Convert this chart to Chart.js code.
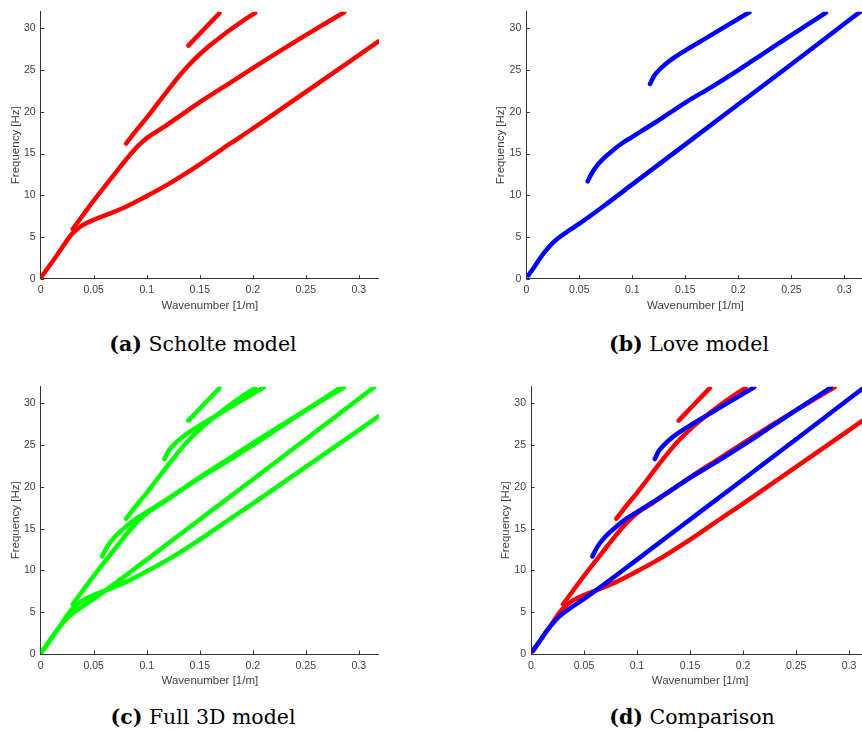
<!DOCTYPE html>
<html>
<head>
<meta charset="utf-8">
<script src="https://cdn.jsdelivr.net/npm/chart.js@4.4.0/dist/chart.umd.min.js"></script>
<style>
  html, body { margin: 0; padding: 0; background: #fff; }
  body { position: relative; width: 862px; height: 731px; overflow: hidden; }
  canvas { position: absolute; }
  .cap { position: absolute; font-family: "DejaVu Serif", serif; font-size: 20.5px; color: #000;
         white-space: nowrap; transform: translate(-50%, -50%); }
  .cap b { font-weight: bold; }
</style>
</head>
<body>
<canvas id="scholte"></canvas>
<canvas id="love"></canvas>
<canvas id="full3d"></canvas>
<canvas id="compare"></canvas>
<div class="cap" style="left:203px;top:344px"><b>(a)</b> Scholte model</div>
<div class="cap" style="left:689px;top:344px"><b>(b)</b> Love model</div>
<div class="cap" style="left:203px;top:717px"><b>(c)</b> Full 3D model</div>
<div class="cap" style="left:692px;top:717px"><b>(d)</b> Comparison</div>
<script>
// Axis ranges and tick labels
const K_MAX = 0.319;
const F_MAX = 32;
const K_TICKS = [0, 0.05, 0.1, 0.15, 0.2, 0.25, 0.3];
const K_TICK_LABELS = ['0', '0.05', '0.1', '0.15', '0.2', '0.25', '0.3'];
const F_TICKS = [0, 5, 10, 15, 20, 25, 30];
const F_TICK_LABELS = ['0', '5', '10', '15', '20', '25', '30'];

// Scholte dispersion branches: wavenumber [1/m] and frequency [Hz]
const scholte0K = [0, 0.015, 0.029, 0.035, 0.04, 0.05, 0.065, 0.08, 0.1, 0.12, 0.15, 0.18, 0.2, 0.25, 0.3, 0.3186];
const scholte0F = [0.1, 2.75, 5.3, 6.0, 6.45, 7.05, 7.8, 8.6, 9.9, 11.3, 13.7, 16.3, 18.0, 22.4, 26.8, 28.45];
const scholte1K = [0.0302, 0.05, 0.07, 0.08, 0.088, 0.095, 0.1, 0.107, 0.115, 0.13, 0.15, 0.18, 0.2, 0.225, 0.25, 0.2862];
const scholte1F = [5.96, 9.35, 12.6, 14.2, 15.4, 16.3, 16.85, 17.45, 18.1, 19.4, 21.15, 23.6, 25.25, 27.25, 29.2, 31.94];
const scholte2K = [0.0805, 0.09, 0.1, 0.11, 0.12, 0.13, 0.14, 0.15, 0.16, 0.17, 0.18, 0.19, 0.2022];
const scholte2F = [16.2, 17.75, 19.3, 20.95, 22.6, 24.2, 25.65, 26.9, 28.0, 29.0, 29.95, 30.85, 31.85];
const scholte3K = [0.1392, 0.154, 0.1685];
const scholte3F = [27.94, 29.9, 31.82];

// Love dispersion branches
const love0K = [0.002, 0.008, 0.0138, 0.02, 0.025, 0.03, 0.04, 0.05, 0.075, 0.1, 0.15, 0.2, 0.25, 0.3, 0.3145];
const love0F = [0.4, 1.5, 2.6, 3.6, 4.3, 4.85, 5.75, 6.6, 8.9, 11.3, 16.1, 20.9, 25.7, 30.55, 31.95];
const love1K = [0.0579, 0.062, 0.067, 0.072, 0.08, 0.09, 0.1, 0.12, 0.1356, 0.15, 0.175, 0.2, 0.225, 0.25, 0.2827];
const love1F = [11.67, 12.7, 13.6, 14.3, 15.2, 16.2, 17.0, 18.6, 19.9, 21.1, 23.0, 25.0, 27.1, 29.2, 31.9];
const love2K = [0.1167, 0.1205, 0.126, 0.132, 0.1387, 0.1513, 0.17, 0.19, 0.2104];
const love2F = [23.34, 24.3, 25.1, 25.8, 26.44, 27.46, 28.86, 30.4, 31.93];

const RED = '#ff0000', BLUE = '#0000ff', GREEN = '#00ff00';
const AXIS_COLOR = '#333333';
const TEXT_COLOR = '#404040';

Chart.defaults.font.family = '"Liberation Sans", Arial, sans-serif';

function curve(k, f, color) {
  return {
    data: k.map((x, i) => ({ x: x, y: f[i] })),
    borderColor: color,
    backgroundColor: color,
    borderWidth: 4.5,
    pointRadius: 0,
    borderCapStyle: 'round',
    borderJoinStyle: 'round',
    cubicInterpolationMode: 'monotone',
    fill: false
  };
}

function scholteCurves(color) {
  return [curve(scholte0K, scholte0F, color), curve(scholte1K, scholte1F, color),
          curve(scholte2K, scholte2F, color), curve(scholte3K, scholte3F, color)];
}
function loveCurves(color) {
  return [curve(love0K, love0F, color), curve(love1K, love1F, color), curve(love2K, love2F, color)];
}

// Short tick marks pointing into the plot area
const innerTicks = {
  id: 'innerTicks',
  beforeDatasetsDraw(chart) {
    const { ctx, chartArea: a, scales: { x, y } } = chart;
    ctx.save();
    ctx.strokeStyle = AXIS_COLOR;
    ctx.lineWidth = 1;
    ctx.beginPath();
    x.ticks.forEach(t => {
      const px = Math.round(x.getPixelForValue(t.value)) + 0.5;
      ctx.moveTo(px, a.bottom); ctx.lineTo(px, a.bottom - 3.5);
    });
    y.ticks.forEach(t => {
      const py = Math.round(y.getPixelForValue(t.value)) + 0.5;
      ctx.moveTo(a.left, py); ctx.lineTo(a.left + 3.5, py);
    });
    ctx.stroke();
    ctx.restore();
  }
};

function panel(id, box, area, datasets) {
  const cv = document.getElementById(id);
  cv.width = box.w; cv.height = box.h;
  cv.style.left = box.x + 'px'; cv.style.top = box.y + 'px';
  cv.style.width = box.w + 'px'; cv.style.height = box.h + 'px';
  const leftW = area.left - box.x;
  const padTop = area.top - box.y;
  const padRight = box.x + box.w - area.right;
  const bottomH = box.y + box.h - area.bottom;
  const titleSize = 11.5, titleLH = titleSize * 1.2;
  new Chart(cv, {
    type: 'line',
    data: { datasets: datasets },
    options: {
      responsive: false,
      animation: false,
      devicePixelRatio: 1,
      events: [],
      layout: { padding: { top: padTop, right: padRight, left: 0, bottom: 0 } },
      plugins: { legend: { display: false }, tooltip: { enabled: false } },
      scales: {
        x: {
          type: 'linear', min: 0, max: K_MAX,
          grid: { display: false, drawTicks: false },
          border: { display: true, color: AXIS_COLOR, width: 1 },
          afterBuildTicks: s => { s.ticks = K_TICKS.map(v => ({ value: v })); },
          ticks: { padding: 5.4, color: TEXT_COLOR, font: { size: 10.5 }, maxRotation: 0, autoSkip: false,
                   callback: (v, i) => K_TICK_LABELS[i] },
          title: { display: true, text: 'Wavenumber [1/m]', color: TEXT_COLOR, font: { size: titleSize },
                   padding: { top: 0, bottom: bottomH - 27 - titleLH / 2 } },
          afterFit: s => { s.height = bottomH; s.paddingLeft = 0; s.paddingRight = 0; }
        },
        y: {
          type: 'linear', min: 0, max: F_MAX,
          grid: { display: false, drawTicks: false },
          border: { display: true, color: AXIS_COLOR, width: 1 },
          afterBuildTicks: s => { s.ticks = F_TICKS.map(v => ({ value: v })); },
          ticks: { padding: 5, color: TEXT_COLOR, font: { size: 10.5 }, autoSkip: false,
                   callback: (v, i) => F_TICK_LABELS[i] },
          title: { display: true, text: 'Frequency [Hz]', color: TEXT_COLOR, font: { size: titleSize },
                   padding: { top: leftW - 25 - titleLH / 2, bottom: 0 } },
          afterFit: s => { s.width = leftW; s.paddingTop = 0; s.paddingBottom = 0; }
        }
      }
    },
    plugins: [innerTicks]
  });
}

panel('scholte', { x: 0, y: 0, w: 379, h: 320 },
      { left: 40.7, top: 11.7, right: 379, bottom: 278.7 }, scholteCurves(RED));
panel('love', { x: 486, y: 0, w: 379, h: 320 },
      { left: 526.3, top: 11.7, right: 864.5, bottom: 278.7 }, loveCurves(BLUE));
panel('full3d', { x: 0, y: 375, w: 379, h: 320 },
      { left: 40.7, top: 386.7, right: 379, bottom: 654 }, scholteCurves(GREEN).concat(loveCurves(GREEN)));
panel('compare', { x: 490, y: 375, w: 380, h: 320 },
      { left: 531, top: 386.7, right: 869.3, bottom: 654 }, loveCurves(BLUE).concat(scholteCurves(RED)));
</script>
</body>
</html>
